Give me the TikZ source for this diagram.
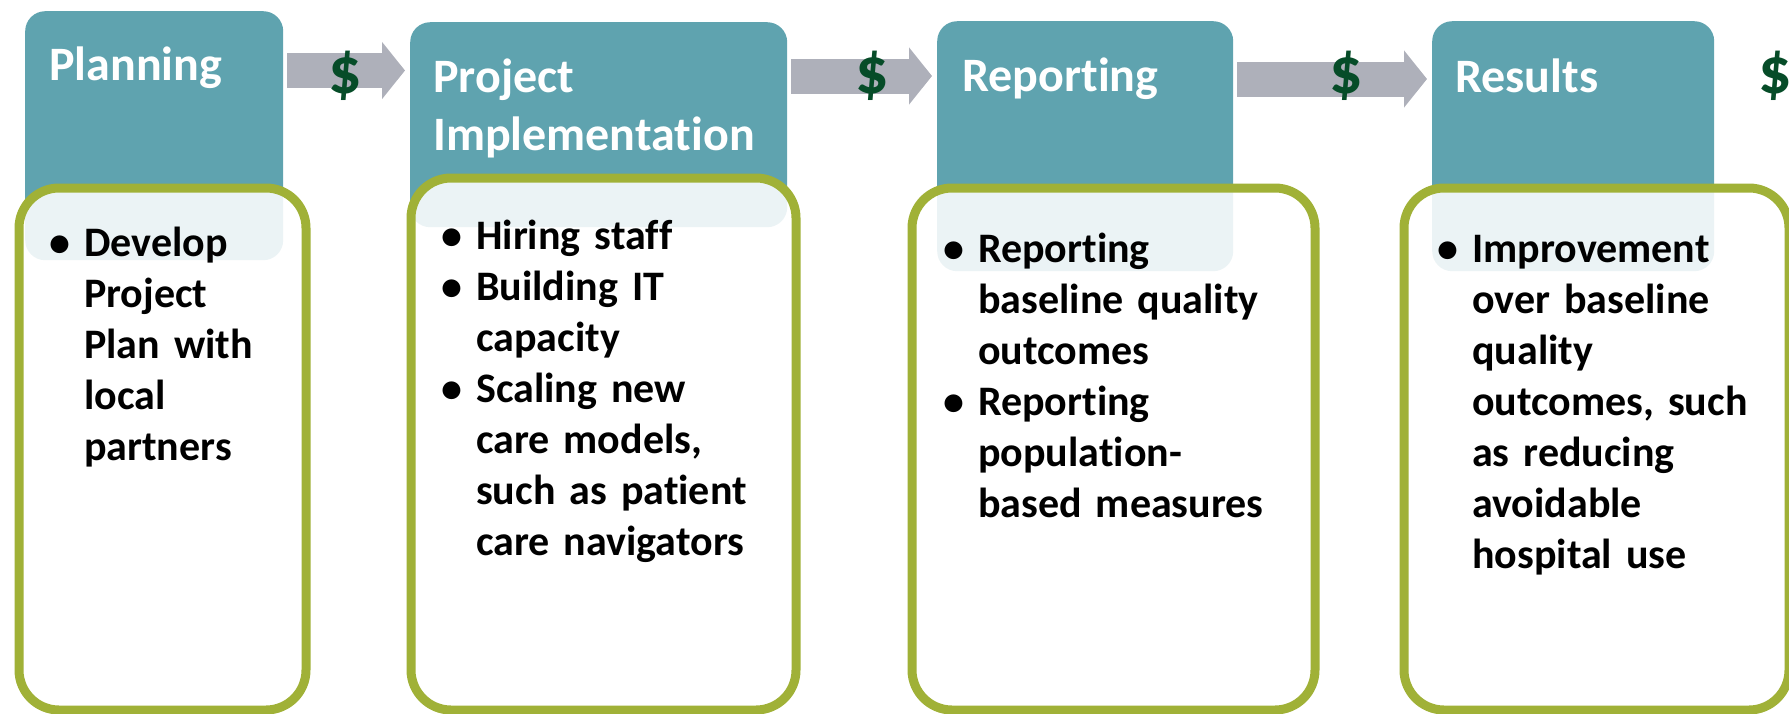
\documentclass[tikz,border=0pt]{standalone}
\usepackage{fontspec}
\setmainfont{Carlito}[Ligatures=NoCommon]
\usetikzlibrary{positioning,arrows.meta}

\definecolor{verdeacqua}{RGB}{95,163,175}
\definecolor{oliva}{RGB}{160,177,55}
\definecolor{grigio}{RGB}{174,176,186}
\definecolor{verdescuro}{RGB}{6,76,40}

% voce di elenco: pallino e testo rientrato
\newcommand{\voce}[1]{\par\noindent\hbox to 35pt{\textbullet\hfil}\parbox[t]{300pt}{\raggedright\strut #1\strut}\par\prevdepth=0.3\baselineskip}

\begin{document}
\begin{tikzpicture}[x=1pt,y=-1pt]
% definizione degli stili
\tikzset{mybox/.style={rectangle, rounded corners=20pt, fill=verdeacqua, draw=none, anchor=north west, inner sep=0pt}}
\tikzset{mycard/.style={rectangle, rounded corners=40pt, draw=oliva, line width=9pt, fill=white, fill opacity=0.88, text opacity=1, anchor=north west, inner sep=0pt}}
\tikzset{mytitle/.style={anchor=north west, inner sep=0pt, text=white, align=left, font=\bfseries\fontsize{48}{58}\selectfont}}
\tikzset{mytext/.style={anchor=north west, inner sep=0pt, text width=340pt, align=left, font=\bfseries\fontsize{42}{51}\selectfont}}
\tikzset{myarrow/.style={draw=grigio, line width=35pt, -{Triangle[length=23pt, width=56pt]}, shorten <=4pt, shorten >=5pt}}
\tikzset{mydollar/.style={text=verdescuro, inner sep=0pt, font=\bfseries\fontsize{66}{66}\selectfont}}

\useasboundingbox (0,0) rectangle (1789,713);

%----
% inserimento riquadri delle fasi
\foreach \n/\x/\y/\w/\h in {plan/25/11/258/249, impl/410/22/377/205, rep/937/21/296/250, ris/1432/21/282/250}
\node[mybox, minimum width=\w pt, minimum height=\h pt] (\n) at (\x,\y) {};

% inserimento riquadri bordati in verde
\foreach \n/\x/\y/\w/\h in {cplan/14.5/183.5/287/522, cimpl/406.5/173.5/385/532, crep/907.5/183.5/403/522, cris/1399.5/183.5/385/522}
\node[mycard, minimum width=\w pt, minimum height=\h pt] (\n) at (\x,\y) {};

% inserimento titoli
\node[mytitle] (tplan) at (49,39.4) {\strut Planning};
\node[mytitle] (timpl) at (433,51.4) {\strut Project\\Implementation};
\node[mytitle] (trep) at (962,50.7) {\strut Reporting};
\node[mytitle] (tris) at (1455,51.5) {\strut Results};

% inserimento elenchi
\node[mytext] (lplan) at (49,205.3) {\voce{Develop\newline Project\newline Plan with\newline local\newline partners}};
\node[mytext] (limpl) at (441,198.3) {\voce{Hiring staff}
\voce{Building IT\newline capacity}
\voce{Scaling new\newline care models,\newline such as patient\newline care navigators}};
\node[mytext] (lrep) at (943,211.3) {\voce{Reporting\newline baseline quality\newline outcomes}
\voce{Reporting\newline population-\newline based measures}};
\node[mytext] (lris) at (1437,211.3) {\voce{Improvement\newline over baseline\newline quality\newline outcomes, such\newline as reducing\newline avoidable\newline hospital use}};

% inserimento frecce tra le fasi
\foreach \a/\b/\y in {plan/impl/70.5, impl/rep/76, rep/ris/79}
\draw[myarrow] (\a.east |- 0,\y) -- (\b.west |- 0,\y);

% inserimento simboli del dollaro
\foreach \n/\x in {d1/345, d2/872, d3/1346, d4/1775}
\node[mydollar] (\n) at (\x,75.5) {\$};
\end{tikzpicture}
\end{document}
